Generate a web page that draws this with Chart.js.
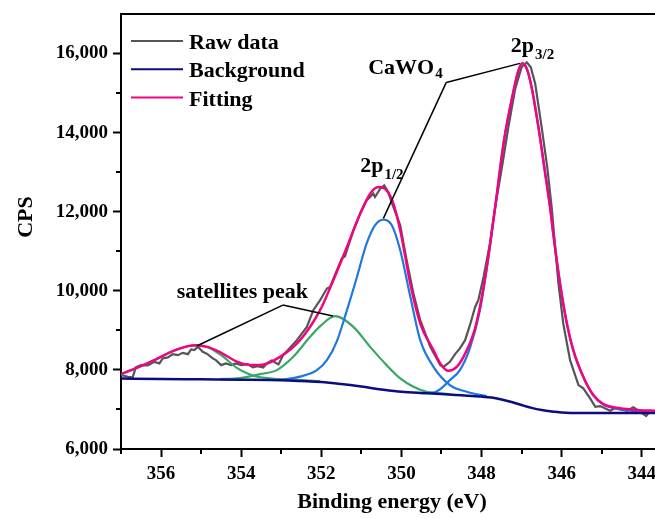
<!DOCTYPE html>
<html>
<head>
<meta charset="utf-8">
<script src="https://cdn.jsdelivr.net/npm/chart.js@4.4.1/dist/chart.umd.min.js"></script>
<style>
  html, body { margin: 0; padding: 0; background: #fff; }
  canvas { display: block; }
</style>
</head>
<body>
<canvas id="xpsChart" width="655" height="519"></canvas>
<script>
// values: binding energy (eV) vs CPS
const rawEnergy = [357.00, 356.83, 356.71, 356.63, 356.50, 356.33, 356.17, 356.04, 355.96, 355.83,
    355.71, 355.58, 355.46, 355.33, 355.25, 355.17, 355.08, 354.96, 354.84, 354.71,
    354.63, 354.50, 354.38, 354.25, 354.13, 354.00, 353.84, 353.71, 353.59, 353.45,
    353.36, 353.24, 353.11, 353.07, 352.95, 352.61, 352.36, 352.20, 352.03, 351.86,
    351.78, 351.61, 351.49, 351.41, 351.20, 351.03, 350.87, 350.70, 350.66, 350.53,
    350.43, 350.33, 350.20, 350.03, 349.87, 349.70, 349.53, 349.28, 349.03, 348.95,
    348.79, 348.66, 348.54, 348.41, 348.29, 348.16, 348.08, 347.95, 347.79, 347.66,
    347.49, 347.33, 347.16, 347.00, 346.87, 346.77, 346.66, 346.50, 346.36, 346.25,
    346.08, 345.96, 345.79, 345.58, 345.46, 345.29, 345.16, 345.04, 344.92, 344.79,
    344.67, 344.54, 344.37, 344.21, 344.04, 343.89, 343.79, 343.67];
const rawCps = [7869, 7826, 7810, 8063, 8121, 8113, 8204, 8164, 8290, 8315,
    8399, 8374, 8432, 8399, 8517, 8500, 8583, 8457, 8399, 8290,
    8247, 8121, 8164, 8121, 8164, 8121, 8146, 8063, 8096, 8063,
    8164, 8240, 8164, 8139, 8374, 8752, 9088, 9510, 9762, 10058,
    10098, 10520, 10815, 10873, 11530, 11951, 12287, 12456, 12371, 12583,
    12666, 12497, 12118, 11660, 10772, 9931, 9257, 8583, 8121, 8078,
    8204, 8399, 8543, 8752, 9131, 9593, 9762, 10351, 11194, 12118,
    13128, 14138, 15108, 15653, 15779, 15653, 15234, 14138, 13128, 12118,
    10184, 9174, 8247, 7616, 7533, 7280, 7068, 7086, 7028, 6967,
    7028, 7002, 6967, 7053, 6942, 6833, 6967, 6942];

const bgEnergy = [357.00, 356.00, 355.00, 354.00, 353.00, 352.50, 352.00, 351.50, 351.00, 350.50,
    350.00, 349.50, 349.00, 348.50, 348.00, 347.75, 347.50, 347.25, 347.00, 346.75,
    346.50, 346.25, 346.00, 345.50, 345.00, 344.00, 343.67];
const bgCps = [7780, 7773, 7762, 7752, 7737, 7717, 7692, 7641, 7578, 7507,
    7447, 7414, 7389, 7358, 7326, 7300, 7250, 7187, 7111, 7040,
    6985, 6947, 6922, 6909, 6909, 6909, 6909];

const fitEnergy = [357.00, 356.58, 356.17, 355.75, 355.33, 355.13, 354.84, 354.50, 354.09, 353.70,
    353.53, 353.03, 352.53, 352.03, 351.70, 351.36, 351.03, 350.78, 350.58, 350.37,
    350.20, 350.03, 349.91, 349.78, 349.53, 349.20, 349.03, 348.83, 348.62, 348.45,
    348.20, 348.04, 347.87, 347.66, 347.44, 347.20, 347.08, 346.98, 346.87, 346.75,
    346.58, 346.41, 346.29, 346.21, 346.04, 345.87, 345.71, 345.46, 345.21, 344.96,
    344.54, 344.12, 343.67];
const fitCps = [7894, 8063, 8247, 8457, 8601, 8626, 8583, 8432, 8204, 8121,
    8121, 8331, 8752, 9510, 10267, 11108, 11951, 12456, 12623, 12540,
    12204, 11530, 10899, 10192, 9174, 8500, 8164, 7977, 8078, 8331,
    8921, 9593, 10603, 12118, 13802, 15065, 15570, 15754, 15613, 15148,
    14138, 12961, 12118, 11446, 10184, 9174, 8500, 7826, 7364, 7136,
    7028, 6985, 6967];

const p12Energy = [353.03, 352.53, 352.11, 351.86, 351.61, 351.36, 351.11, 350.87, 350.66, 350.45,
    350.24, 350.03, 349.78, 349.53, 349.20, 348.79, 348.37, 347.87];
const p12Cps = [7742, 7831, 7995, 8247, 8730, 9510, 10351, 11194, 11656, 11800,
    11656, 11025, 9863, 8752, 8078, 7616, 7447, 7340];

const p32Energy = [349.53, 349.21, 349.03, 348.79, 348.54, 348.29, 348.04, 347.87, 347.66, 347.44,
    347.20, 347.08, 346.98, 346.87, 346.75, 346.58, 346.41, 346.29, 346.21, 346.04,
    345.87, 345.71, 345.46, 345.21, 344.96, 344.54, 344.12, 343.67];
const p32Cps = [7414, 7427, 7515, 7742, 7995, 8550, 9510, 10558, 12098, 13790,
    15060, 15565, 15750, 15610, 15145, 14135, 12958, 12115, 11443, 10180,
    9170, 8495, 7820, 7355, 7125, 7010, 6950, 6930];

const sat1Energy = [357.00, 356.58, 356.17, 355.75, 355.33, 355.13, 354.84, 354.50, 354.09, 353.84,
    353.59, 353.03, 352.53, 352.03];
const sat1Cps = [7890, 8060, 8245, 8455, 8598, 8620, 8575, 8374, 8038, 7911,
    7826, 7768, 7742, 7717];

const sat2Energy = [354.53, 354.03, 353.53, 353.11, 352.70, 352.28, 352.00, 351.66, 351.20, 350.78,
    350.37, 350.03, 349.70, 349.37, 348.79];
const sat2Cps = [7768, 7793, 7894, 7995, 8331, 8836, 9131, 9358, 9088, 8583,
    8121, 7785, 7573, 7447, 7385];

const xTicks = [356, 354, 352, 350, 348, 346, 344];
const xMinorTicks = [357, 355, 353, 351, 349, 347, 345];
const yTicks = [6000, 8000, 10000, 12000, 14000, 16000];
const yMinorTicks = [7000, 9000, 11000, 13000, 15000];

const legendItems = ['Raw data', 'Background', 'Fitting'];

// callout anchors (eV, CPS)
const cawoElbow = [348.88, 15270];
const cawoEnds = [[347.04, 15751], [350.45, 11832]];
const satElbow = [352.96, 9640];
const satEnds = [[355.11, 8604], [351.71, 9362]];

const serif = "'Liberation Serif', 'Times New Roman', serif";
const colors = {
    raw: '#555555',
    bg: '#0c0c82',
    fit: '#f0057f',
    peak: '#1f78e0',
    sat: '#36a866'
};

function pts(xs, ys) {
    return xs.map((v, i) => ({ x: v, y: ys[i] }));
}

function smoothLine(data, color, width) {
    return {
        data: data,
        borderColor: color,
        borderWidth: width,
        pointRadius: 0,
        fill: false,
        cubicInterpolationMode: 'monotone'
    };
}

const decorations = {
    id: 'decorations',
    afterDraw(chart) {
        const ctx = chart.ctx;
        const area = chart.chartArea;
        const xs = chart.scales.x;
        const ys = chart.scales.y;
        const px = v => xs.getPixelForValue(v);
        const py = v => ys.getPixelForValue(v);
        ctx.save();

        // top frame line
        ctx.strokeStyle = '#000';
        ctx.lineWidth = 2;
        ctx.beginPath();
        ctx.moveTo(area.left - 1, area.top);
        ctx.lineTo(area.right, area.top);
        ctx.stroke();

        // minor ticks
        ctx.beginPath();
        xMinorTicks.forEach(v => {
            const x = Math.round(px(v));
            ctx.moveTo(x, area.bottom);
            ctx.lineTo(x, area.bottom + 5);
        });
        yMinorTicks.forEach(v => {
            const y = Math.round(py(v));
            ctx.moveTo(area.left, y);
            ctx.lineTo(area.left - 5, y);
        });
        ctx.stroke();

        // legend
        const legendColors = [colors.raw, colors.bg, colors.fit];
        ctx.font = 'bold 22px ' + serif;
        ctx.textAlign = 'left';
        ctx.textBaseline = 'alphabetic';
        legendItems.forEach((label, i) => {
            const y = area.top + 27 + i * 28.3;
            ctx.strokeStyle = legendColors[i];
            ctx.lineWidth = 2;
            ctx.beginPath();
            ctx.moveTo(area.left + 10, y);
            ctx.lineTo(area.left + 62, y);
            ctx.stroke();
            ctx.fillStyle = '#000';
            ctx.fillText(label, area.left + 68, y + 8);
        });

        // callout lines
        ctx.strokeStyle = '#000';
        ctx.lineWidth = 1.5;
        [[cawoElbow, cawoEnds], [satElbow, satEnds]].forEach(([elbow, ends]) => {
            ends.forEach(end => {
                ctx.beginPath();
                ctx.moveTo(px(elbow[0]), py(elbow[1]));
                ctx.lineTo(px(end[0]), py(end[1]));
                ctx.stroke();
            });
        });

        // labels with subscripts
        ctx.fillStyle = '#000';
        function subLabel(main, sub, eV, cps, subDrop) {
            const x = px(eV), y = py(cps);
            ctx.font = 'bold 22px ' + serif;
            ctx.fillText(main, x, y);
            const w = ctx.measureText(main).width;
            ctx.font = 'bold 15px ' + serif;
            ctx.fillText(sub, x + w + 1, y + subDrop);
        }
        subLabel('CaWO', '4', 350.83, 15480, 4);
        subLabel('2p', '3/2', 347.27, 16044, 7);
        subLabel('2p', '1/2', 351.03, 13003, 7);
        ctx.font = 'bold 22px ' + serif;
        ctx.fillText('satellites peak', px(355.61), py(9825));

        // axis titles
        ctx.textAlign = 'center';
        ctx.fillText('Binding energy (eV)', (area.left + area.right) / 2 + 4, area.bottom + 59);
        ctx.save();
        ctx.translate(area.left - 89, area.top + 203);
        ctx.rotate(-Math.PI / 2);
        ctx.fillText('CPS', 0, 0);
        ctx.restore();

        ctx.restore();
    }
};

const tickFont = { family: serif, size: 19, weight: 'bold' };

const xctx = document.getElementById('xpsChart').getContext('2d');
const xpsChart = new Chart(xctx, {
    type: 'line',
    data: {
        datasets: [
            smoothLine(pts(fitEnergy, fitCps), colors.fit, 2.5),
            smoothLine(pts(bgEnergy, bgCps), colors.bg, 2.5),
            smoothLine(pts(p32Energy, p32Cps), colors.peak, 2.2),
            smoothLine(pts(p12Energy, p12Cps), colors.peak, 2.2),
            smoothLine(pts(sat2Energy, sat2Cps), colors.sat, 2.2),
            smoothLine(pts(sat1Energy, sat1Cps), colors.sat, 2.2),
            {
                data: pts(rawEnergy, rawCps),
                borderColor: colors.raw,
                borderWidth: 2.2,
                pointRadius: 0,
                fill: false,
                tension: 0
            }
        ]
    },
    options: {
        responsive: false,
        animation: false,
        layout: { padding: { top: 14, right: 0, bottom: 0, left: 0 } },
        plugins: {
            legend: { display: false },
            tooltip: { enabled: false }
        },
        scales: {
            x: {
                type: 'linear',
                reverse: true,
                min: 343.67,
                max: 357,
                afterBuildTicks: s => { s.ticks = xTicks.map(v => ({ value: v })); },
                afterFit: s => { s.height = 70; s.paddingLeft = 0; s.paddingRight = 0; },
                grid: { drawOnChartArea: false, tickLength: 8, tickWidth: 2, tickColor: '#000' },
                border: { color: '#000', width: 2 },
                ticks: { font: tickFont, color: '#000', padding: 6, maxRotation: 0, autoSkip: false }
            },
            y: {
                min: 6000,
                max: 17000,
                afterBuildTicks: s => { s.ticks = yTicks.map(v => ({ value: v })); },
                afterFit: s => { s.width = 121; s.paddingTop = 0; s.paddingBottom = 0; },
                grid: { drawOnChartArea: false, tickLength: 8, tickWidth: 2, tickColor: '#000' },
                border: { color: '#000', width: 2 },
                ticks: {
                    font: tickFont,
                    color: '#000',
                    padding: 5,
                    callback: v => v.toLocaleString('en-US')
                }
            }
        }
    },
    plugins: [decorations]
});
</script>
</body>
</html>
